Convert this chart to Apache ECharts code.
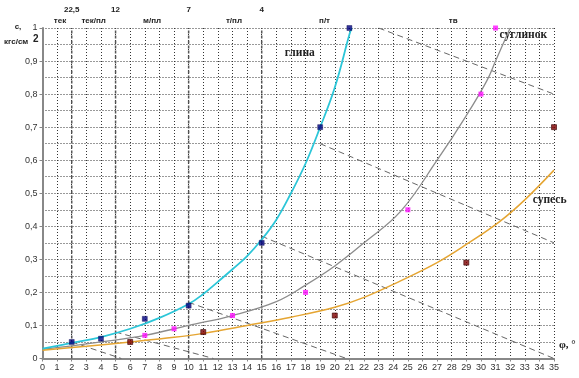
<!DOCTYPE html>
<html lang="ru">
<head>
<meta charset="UTF-8">
<title>c - phi</title>
<script src="https://cdn.jsdelivr.net/npm/echarts@6/dist/echarts.min.js"></script>
<style>
    html, body { margin: 0; padding: 0; background: #fff; }
    #chart { width: 579px; height: 378px; }
</style>
</head>
<body>
<div id="chart"></div>
<script>
    // curves [phi, c]
    var clayCurve = [[0, 0.03], [2, 0.047], [4, 0.065], [6, 0.09], [8, 0.123], [10, 0.165], [11, 0.195], [12, 0.232],
        [13, 0.27], [14, 0.31], [15, 0.36], [16, 0.42], [17, 0.5], [18, 0.59], [19, 0.7], [20, 0.82], [21, 0.98], [21.15, 1.0]];
    var loamCurve = [[0, 0.028], [2, 0.038], [4, 0.05], [7, 0.07], [10, 0.1], [13, 0.13], [16, 0.172], [18, 0.222],
        [20, 0.28], [22, 0.35], [24.5, 0.445], [27, 0.6], [29, 0.735], [30.4, 0.84], [31, 0.9], [32, 1.0]];
    var sandyCurve = [[0, 0.025], [3, 0.037], [6, 0.05], [9, 0.064], [11, 0.076], [14, 0.1], [17, 0.125], [20, 0.155],
        [22, 0.185], [24.5, 0.235], [27, 0.29], [29, 0.345], [31.3, 0.415], [33, 0.48], [35, 0.57]];

    // measured points
    var clayPoints = [[2, 0.05], [4, 0.06], [7, 0.12], [10, 0.16], [15, 0.35], [19, 0.7], [21, 1.0]];
    var loamPoints = [[7, 0.07], [9, 0.09], [13, 0.13], [18, 0.2], [25, 0.45], [30, 0.8], [31, 1.0]];
    var sandyPoints = [[6, 0.05], [11, 0.08], [20, 0.13], [29, 0.29], [35, 0.7]];

    // dashed guide lines
    var guideLines = [
        [[2, 0.05], [5.4, 0]],
        [[5, 0.08], [11.7, 0]],
        [[10, 0.17], [20.8, 0]],
        [[15, 0.37], [35, 0]],
        [[19, 0.65], [35, 0.35]],
        [[23, 1.0], [35, 0.8]]
    ];

    // consistency boundaries and zones
    var boundaryX = [2, 5, 10, 15];
    var boundaryLabels = ['22,5', '12', '7', '4'];
    var zoneNames = ['тек', 'тек/пл', 'м/пл', 'т/пл', 'п/т', 'тв'];
    var zoneX = [1.2, 3.5, 7.5, 13.1, 19.3, 28.1];

    // curve names
    var curveNames = ['глина', 'суглинок', 'супесь'];
    var curveNameAt = [[17.6, 0.925], [32.9, 0.98], [34.7, 0.478]];

    var chart = echarts.init(document.getElementById('chart'));

    var dotStyle = {color: '#333', type: [1, 2], width: 1};

    var series = [];
    guideLines.forEach(function (seg) {
        series.push({
            type: 'line', data: seg, symbol: 'none', silent: true, z: 2,
            lineStyle: {color: '#666', width: 1, type: [6, 4]}
        });
    });
    boundaryX.forEach(function (x) {
        series.push({
            type: 'line', data: [[x, 0], [x, 1]], symbol: 'none', silent: true, z: 2,
            lineStyle: {color: '#555', width: 1.5, type: [3, 2]}
        });
    });
    series.push(
        {type: 'line', data: loamCurve, smooth: 0.4, symbol: 'none', z: 3, lineStyle: {color: '#8c8c8c', width: 1.3}},
        {type: 'line', data: sandyCurve, smooth: 0.4, symbol: 'none', z: 3, lineStyle: {color: '#e5a532', width: 1.5}},
        {type: 'line', data: clayCurve, smooth: 0.4, symbol: 'none', z: 3, lineStyle: {color: '#2cc6d8', width: 1.8}},
        {type: 'scatter', data: clayPoints, symbol: 'rect', symbolSize: 5, z: 4,
            itemStyle: {color: '#000080', borderColor: '#000050', borderWidth: 0.5}},
        {type: 'scatter', data: loamPoints, symbol: 'rect', symbolSize: 5, z: 4,
            itemStyle: {color: '#ff10ff'}},
        {type: 'scatter', data: sandyPoints, symbol: 'rect', symbolSize: 5, z: 4,
            itemStyle: {color: '#800000', borderColor: '#3a0000', borderWidth: 0.8}}
    );

    chart.setOption({
        animation: false,
        grid: {left: 42.5, right: 25, top: 28, bottom: 19.5},
        xAxis: {
            type: 'value', min: 0, max: 35, interval: 1,
            axisLine: {lineStyle: {color: '#888', width: 2}},
            axisTick: {show: true, length: 3, lineStyle: {color: '#888'}},
            axisLabel: {color: '#333', fontSize: 9, fontFamily: 'Liberation Sans', margin: 5},
            splitLine: {show: true, lineStyle: dotStyle}
        },
        yAxis: {
            type: 'value', min: 0, max: 1, interval: 0.1,
            axisLine: {show: true, lineStyle: {color: '#888', width: 2}},
            axisTick: {show: true, length: 3, lineStyle: {color: '#888'}},
            axisLabel: {
                color: '#333', fontSize: 9, fontFamily: 'Liberation Sans', margin: 5,
                formatter: function (v) { return String(Math.round(v * 10) / 10).replace('.', ','); }
            },
            minorTick: {show: false, splitNumber: 2},
            splitLine: {show: true, lineStyle: dotStyle},
            minorSplitLine: {show: true, lineStyle: dotStyle}
        },
        series: series
    });

    var bold = 'bold 8px "Liberation Sans"';
    var graphics = [];
    boundaryX.forEach(function (x, i) {
        var p = chart.convertToPixel({gridIndex: 0}, [x, 1]);
        graphics.push({type: 'text', x: p[0], y: 10, style: {text: boundaryLabels[i], font: bold, fill: '#222', align: 'center', verticalAlign: 'middle'}});
    });
    zoneNames.forEach(function (n, i) {
        var p = chart.convertToPixel({gridIndex: 0}, [zoneX[i], 1]);
        graphics.push({type: 'text', x: p[0], y: 21, style: {text: n, font: bold, fill: '#222', align: 'center', verticalAlign: 'middle'}});
    });
    curveNames.forEach(function (n, i) {
        var p = chart.convertToPixel({gridIndex: 0}, curveNameAt[i]);
        graphics.push({type: 'text', x: p[0], y: p[1], style: {text: n, font: 'bold 11.5px "Liberation Serif"', fill: '#222', align: 'center', verticalAlign: 'middle'}});
    });
    graphics.push(
        {type: 'text', x: 18, y: 27, style: {text: 'с,', font: bold, fill: '#222', align: 'center', verticalAlign: 'middle'}},
        {type: 'text', x: 4, y: 42, style: {text: 'кгс/см', font: bold, fill: '#222', verticalAlign: 'middle'}},
        {type: 'text', x: 33, y: 39, style: {text: '2', font: 'bold 10px "Liberation Sans"', fill: '#222', verticalAlign: 'middle'}},
        {type: 'text', x: 559, y: 345, style: {text: 'φ, °', font: 'bold 11px "Liberation Serif"', fill: '#222', verticalAlign: 'middle'}}
    );
    chart.setOption({graphic: graphics});
</script>
</body>
</html>
